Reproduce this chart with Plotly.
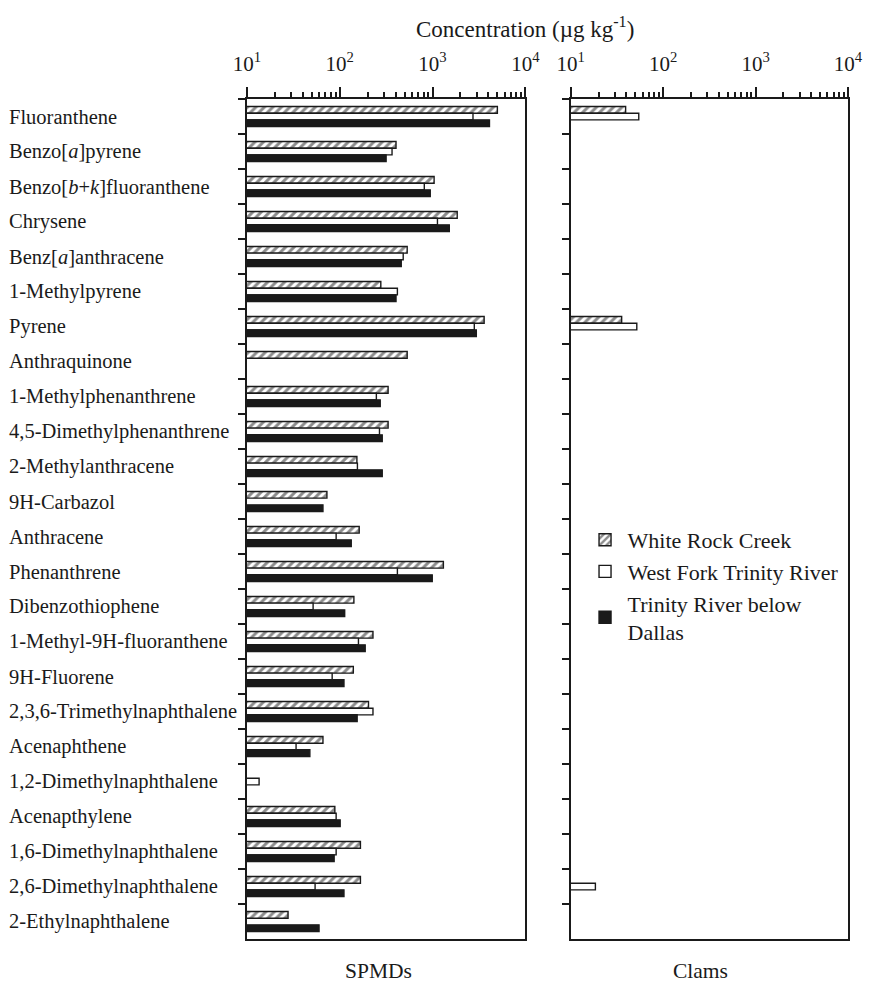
import plotly.graph_objects as go

# PAH compounds, listed top to bottom
compounds = [
    "Fluoranthene", "Benzo[<i>a</i>]pyrene", "Benzo[<i>b</i>+<i>k</i>]fluoranthene",
    "Chrysene", "Benz[<i>a</i>]anthracene", "1-Methylpyrene", "Pyrene",
    "Anthraquinone", "1-Methylphenanthrene", "4,5-Dimethylphenanthrene",
    "2-Methylanthracene", "9H-Carbazol", "Anthracene", "Phenanthrene",
    "Dibenzothiophene", "1-Methyl-9H-fluoranthene", "9H-Fluorene",
    "2,3,6-Trimethylnaphthalene", "Acenaphthene", "1,2-Dimethylnaphthalene",
    "Acenapthylene", "1,6-Dimethylnaphthalene", "2,6-Dimethylnaphthalene",
    "2-Ethylnaphthalene",
]

# SPMD concentrations (ug/kg) per site
spmd_white_rock = [5000, 404, 1040, 1845, 533, 277, 3600, 533, 332, 332,
                   153, 72.7, 162, 1309, 142, 228, 140, 204, 65.9, None,
                   88.5, 167, 167, 27.7]
spmd_west_fork = [2730, 366, 815, 1130, 483, 418, 2820, None, 248, 268,
                  155, None, 91.4, 418, 51.6, 159, 82.8, 228, 33.8, 13.5,
                  91.4, 91.4, 54.2, None]
spmd_below_dallas = [4110, 316, 945, 1517, 460, 404, 2965, None, 273, 287,
                     287, 65.9, 133, 993, 113, 188, 111, 154, 47.6, None,
                     101, 87, 111, 59.8]

# Clam concentrations (ug/kg) per site
clam_white_rock = [39.3, None, None, None, None, None, 35.6] + [None] * 17
clam_west_fork = [54.5, None, None, None, None, None, 51.9] + [None] * 15 + [18.5, None]
clam_below_dallas = [None] * 24

series_names = ["White Rock Creek", "West Fork Trinity River", "Trinity River below<br>Dallas"]

decade_vals = [10, 100, 1000, 10000]
decade_text = ["10<sup>1</sup>", "10<sup>2</sup>", "10<sup>3</sup>", "10<sup>4</sup>"]

FONT = "Liberation Serif, Times New Roman, serif"
INK = "#1a1a1a"

styles = [
    dict(color="white", pattern=dict(shape="/", fgcolor=INK, bgcolor="white",
                                     size=6, solidity=0.5, fillmode="overlay")),
    dict(color="white"),
    dict(color=INK),
]

fig = go.Figure()
spmd = [spmd_white_rock, spmd_west_fork, spmd_below_dallas]
clam = [clam_white_rock, clam_west_fork, clam_below_dallas]
for name, vals, st in zip(series_names, spmd, styles):
    fig.add_trace(go.Bar(
        y=compounds, x=vals, orientation="h", name=name,
        marker=dict(line=dict(color=INK, width=1.4), **st),
        xaxis="x", yaxis="y",
    ))
for name, vals, st in zip(series_names, clam, styles):
    fig.add_trace(go.Bar(
        y=compounds, x=vals, orientation="h", name=name, showlegend=False,
        marker=dict(line=dict(color=INK, width=1.4), **st),
        xaxis="x2", yaxis="y2",
    ))

minor_vals = [m * 10 ** e for e in range(1, 4) for m in range(2, 10)]

xaxis_common = dict(
    type="log", range=[1, 4], side="top",
    tickvals=decade_vals, ticktext=decade_text,
    ticks="outside", ticklen=10, tickwidth=1.5, tickcolor=INK,
    ticklabelstandoff=8,
    minor=dict(tickvals=minor_vals, ticks="outside", ticklen=5, tickwidth=1.5, tickcolor=INK),
    showline=True, linewidth=2, linecolor=INK, mirror=True,
    showgrid=False, zeroline=False,
    tickfont=dict(family=FONT, size=21, color=INK),
)
yaxis_common = dict(
    type="category", categoryorder="array", categoryarray=compounds,
    autorange="reversed", tickson="boundaries",
    ticks="outside", ticklen=7, tickwidth=1.5, tickcolor=INK,
    showticklabels=False,
    showline=True, linewidth=2, linecolor=INK, mirror=True,
    showgrid=False, zeroline=False,
)

L, R, T, B = 247, 19, 99, 46
W, H = 875, 985
pw = W - L - R
ph = H - T - B

fig.update_layout(
    width=W, height=H,
    margin=dict(l=L, r=R, t=T, b=B),
    paper_bgcolor="white", plot_bgcolor="white",
    barmode="group", bargap=0.43, bargroupgap=0,
    xaxis=dict(domain=[0, (529 - L) / pw], **xaxis_common),
    xaxis2=dict(domain=[(575 - L) / pw, 1], anchor="y2", **xaxis_common),
    yaxis=dict(domain=[0, 1], anchor="x", **yaxis_common),
    yaxis2=dict(domain=[0, 1], anchor="x2", **yaxis_common),
    font=dict(family=FONT, color=INK),
    legend=dict(
        x=(587 - L) / pw, y=1 - (519 - T) / ph, xanchor="left", yanchor="top",
        bgcolor="rgba(0,0,0,0)", borderwidth=0,
        font=dict(family=FONT, size=22, color=INK),
        tracegroupgap=0, itemwidth=35,
    ),
    showlegend=True,
)

# compound names, left-aligned in the left margin
for c in compounds:
    fig.add_annotation(
        x=(4 - L) / pw, xref="paper", y=c, yref="y",
        text=c, showarrow=False, xanchor="left", yanchor="middle",
        font=dict(family=FONT, size=20.5, color=INK),
    )

fig.add_annotation(
    x=(529 - L) / pw, xref="paper", y=1 + (T - 27) / ph, yref="paper",
    text="Concentration (µg kg<sup>-1</sup>)", showarrow=False,
    xanchor="center", yanchor="middle",
    font=dict(family=FONT, size=23, color=INK),
)
fig.add_annotation(
    x=(380 - L) / pw, xref="paper", y=-(971 - (H - B)) / ph, yref="paper",
    text="SPMDs", showarrow=False, xanchor="center", yanchor="middle",
    font=dict(family=FONT, size=21.5, color=INK),
)
fig.add_annotation(
    x=(707 - L) / pw, xref="paper", y=-(971 - (H - B)) / ph, yref="paper",
    text="Clams", showarrow=False, xanchor="center", yanchor="middle",
    font=dict(family=FONT, size=21.5, color=INK),
)

fig.write_html("out.html")
